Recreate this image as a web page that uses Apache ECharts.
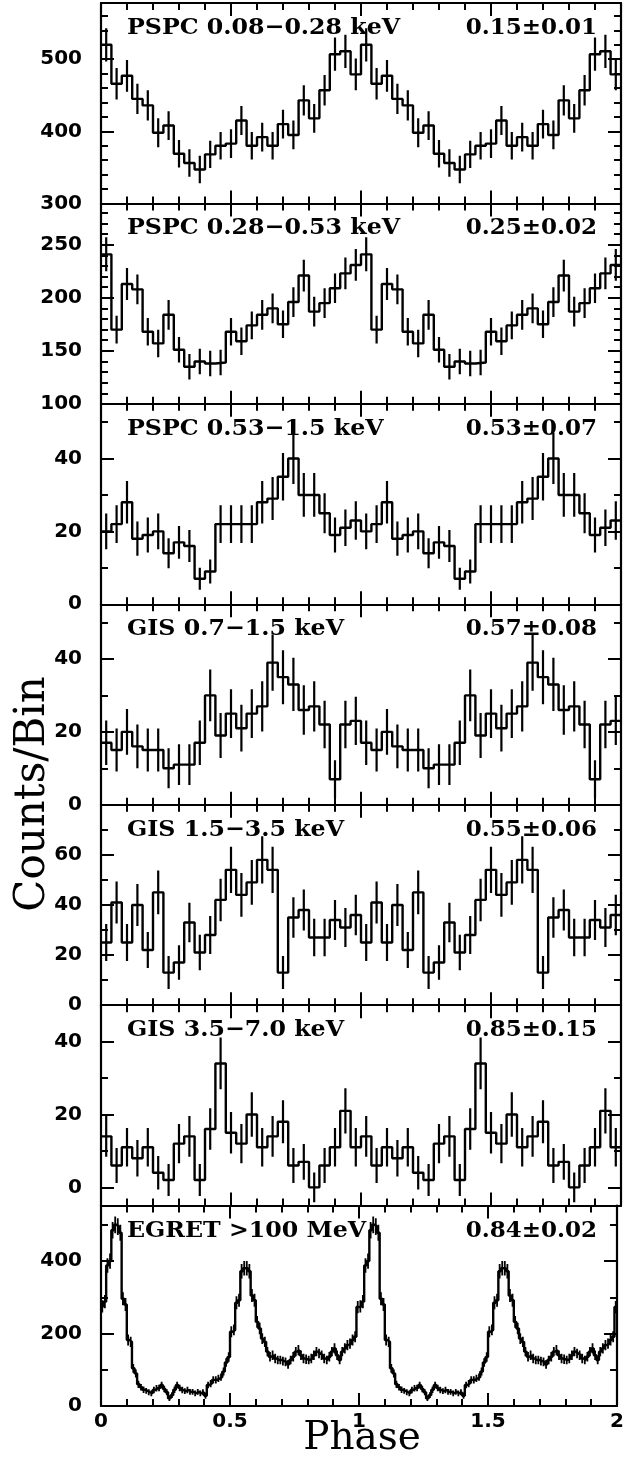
<!DOCTYPE html>
<html><head><meta charset="utf-8">
<script src="https://cdn.jsdelivr.net/npm/echarts@6/dist/echarts.min.js"></script>
<style>html,body{margin:0;padding:0;background:#fff}#c{width:627px;height:1458px}</style>
</head><body><div id="c"></div>
<script>
// ---- data: one rotation (phase 0-1), shown twice in the figure ----
const pspcSoft = [520,466,477,445,436,398,408,369,356,347,368,380,383,415,380,392,380,410,395,443,418,457,507,511,479];
const pspcSoftErr = [23,22,22,21,21,20,20,19,19,19,19,19,20,20,19,20,19,20,20,21,20,21,23,23,22];
const pspcMid = [241,170,213,208,168,157,184,151,135,140,138,139,168,159,174,184,190,175,196,221,187,195,209,223,231];
const pspcMidErr = [16,13,15,14,13,13,14,12,12,12,12,12,13,13,13,14,14,13,14,15,14,14,14,15,15];
const pspcHard = [20,22,28,18,19,20,14,17,16,7,9,22,22,22,22,28,29,35,40,30,30,25,19,21,23];
const pspcHardErr = [4.9,5.2,5.8,4.7,4.8,4.9,4.1,4.5,4.4,3.0,3.3,5.2,5.2,5.2,5.2,5.8,5.9,6.5,7.0,6.0,6.0,5.5,4.8,5.0,5.3];
const gisLow = [17,15,20,16,15,15,10,11,11,17,30,19,25,21,25,27,39,35,33,26,27,22,7,22,23];
const gisLowErr = [6.1,5.9,6.3,6.0,5.9,5.9,5.5,5.6,5.6,6.1,7.1,6.2,6.7,6.4,6.7,6.9,7.7,7.4,7.3,6.8,6.9,6.5,5.2,6.5,6.6];
const gisMid = [25,41,25,40,22,45,13,17,33,21,28,42,54,44,49,58,54,13,35,38,27,27,34,31,36];
const gisMidErr = [7.4,8.4,7.4,8.4,7.2,8.7,6.6,6.9,7.9,7.1,7.6,8.5,9.2,8.7,8.9,9.4,9.2,6.6,8.1,8.2,7.5,7.5,8.0,7.8,8.1];
const gisHigh = [14,6,11,8,11,4,2,12,14,2,16,34,15,12,20,11,14,18,6,7,0,6,11,21,11];
const gisHighErr = [5.6,4.8,5.3,5.0,5.3,4.6,4.4,5.4,5.6,4.4,5.7,7.1,5.7,5.4,6.1,5.3,5.6,5.9,4.8,4.9,4.1,4.8,5.3,6.2,5.3];
const egret = [275,288,388,400,485,500,495,478,296,280,182,177,104,90,60,52,45,42,38,35,
  44,49,50,58,47,38,21,30,45,58,50,44,41,44,39,39,35,39,35,38,
  28,58,62,72,72,76,80,95,120,135,205,210,285,292,372,380,380,372,305,292,
  232,214,186,177,150,136,140,131,127,127,124,122,115,127,136,150,154,140,131,129,
  127,131,140,150,145,140,131,127,136,150,159,140,127,150,159,168,172,182,191,273];
const egretErr = [17,18,20,21,23,23,23,22,18,18,15,14,12,11,10,9,9,8,8,8,
  9,9,9,9,9,8,7,8,9,9,9,9,8,9,8,8,8,8,8,8,
  8,9,10,10,10,10,10,11,12,13,15,15,18,18,20,20,20,20,18,18,
  16,16,15,14,13,13,13,13,12,12,12,12,12,12,13,13,14,13,13,13,
  12,13,13,13,13,13,13,12,13,13,14,13,12,13,14,14,14,15,15,17];

const bandNames = ['PSPC 0.08\u22120.28 keV','PSPC 0.28\u22120.53 keV','PSPC 0.53\u22121.5 keV',
  'GIS 0.7\u22121.5 keV','GIS 1.5\u22123.5 keV','GIS 3.5\u22127.0 keV','EGRET >100 MeV'];
const pulsedFrac = ['0.15\u00b10.01','0.25\u00b10.02','0.53\u00b10.07','0.57\u00b10.08','0.55\u00b10.06','0.85\u00b10.15','0.84\u00b10.02'];
const yMin = [300,100,0,0,0,-5,0];
const yMax = [578,289,55,55,80,50,553];
const yStep = [100,50,20,20,20,20,200];
const yMinorSplit = [5,5,2,2,2,2,2];
const phaseTicks = ['0','0.5','1','1.5','2'];

const values = [pspcSoft,pspcMid,pspcHard,gisLow,gisMid,gisHigh,egret];
const errors = [pspcSoftErr,pspcMidErr,pspcHardErr,gisLowErr,gisMidErr,gisHighErr,egretErr];

// ---- layout ----
const TOP = 3, H = 200.43, LEFT = 101, RIGHT = 6;
const BLK = '#000';
const tickFont = '"DejaVu Sans", sans-serif';
const serif = '"DejaVu Serif", serif';

const grids = [], xAxes = [], yAxes = [], series = [], graphics = [];
for (let i = 0; i < 7; i++) {
  grids.push({left: LEFT, right: RIGHT, top: TOP + i * H, height: H, containLabel: false});
  const last = i === 6;
  const xa = (pos, showLab) => ({
    type: 'value', gridIndex: i, min: 0, max: 2, interval: 0.5, position: pos,
    axisLine: {show: true, onZero: false, lineStyle: {color: BLK, width: 2.2}},
    axisTick: {show: true, inside: true, length: 13, lineStyle: {color: BLK, width: 2}},
    minorTick: {show: true, splitNumber: 5, length: 7, lineStyle: {color: BLK, width: 2}},
    splitLine: {show: false}, minorSplitLine: {show: false},
    axisLabel: {show: showLab, margin: 6, color: BLK, fontFamily: tickFont, fontWeight: 'bold', fontSize: 20,
      formatter: v => phaseTicks[Math.round(v * 2)] }
  });
  xAxes.push(xa('bottom', last));
  xAxes.push(xa('top', false));
  const ya = (pos, showLab) => ({
    type: 'value', gridIndex: i, min: yMin[i], max: yMax[i], minInterval: yStep[i], maxInterval: yStep[i],
    position: pos,
    axisLine: {show: true, onZero: false, lineStyle: {color: BLK, width: 2.2}},
    axisTick: {show: true, inside: true, length: 13, lineStyle: {color: BLK, width: 2}},
    minorTick: {show: true, splitNumber: yMinorSplit[i], length: 7, lineStyle: {color: BLK, width: 2}},
    splitLine: {show: false}, minorSplitLine: {show: false},
    axisLabel: {show: showLab, margin: 19, color: BLK, fontFamily: tickFont, fontWeight: 'bold', fontSize: 20,
      showMaxLabel: false, showMinLabel: yMin[i] % yStep[i] === 0}
  });
  yAxes.push(ya('left', true));
  yAxes.push(ya('right', false));

  // two rotations
  const v = values[i].concat(values[i]);
  const e = errors[i].concat(errors[i]);
  const n = v.length, w = 2 / n;
  const stepData = v.map((y, k) => [k * w, y]);
  stepData.push([2, v[n - 1]]);
  series.push({
    type: 'line', xAxisIndex: 2 * i, yAxisIndex: 2 * i, step: 'end', data: stepData,
    symbol: 'none', clip: true, animation: false,
    lineStyle: {color: BLK, width: i === 6 ? 2.4 : 2.4}
  });
  const errData = v.map((y, k) => [(k + 0.5) * w, y - e[k], y + e[k]]);
  series.push({
    type: 'custom', xAxisIndex: 2 * i, yAxisIndex: 2 * i, data: errData, clip: true, animation: false,
    encode: {x: 0, y: [1, 2]},
    renderItem: (params, api) => {
      const p1 = api.coord([api.value(0), api.value(1)]);
      const p2 = api.coord([api.value(0), api.value(2)]);
      return {type: 'line', shape: {x1: p1[0], y1: p1[1], x2: p2[0], y2: p2[1]},
        style: {stroke: BLK, lineWidth: i === 6 ? 1.8 : 2.2}};
    }
  });

  const ty = TOP + i * H + 25;
  graphics.push({type: 'text', x: 127, y: ty, scaleX: 1.03, z: 100,
    style: {text: bandNames[i], font: 'bold 23px ' + serif, fill: BLK,
      align: 'left', verticalAlign: 'middle', textAlign: 'left', textVerticalAlign: 'middle'}});
  graphics.push({type: 'text', x: 597, y: ty, scaleX: 1.0, z: 100,
    style: {text: pulsedFrac[i], font: 'bold 23px ' + serif, fill: BLK,
      align: 'right', verticalAlign: 'middle', textAlign: 'right', textVerticalAlign: 'middle'}});
}
graphics.push({type: 'text', x: 33, y: 794, rotation: Math.PI / 2, z: 100,
  style: {text: 'Counts/Bin', font: '42px ' + serif, fill: BLK,
    align: 'center', verticalAlign: 'middle', textAlign: 'center', textVerticalAlign: 'middle'}});
graphics.push({type: 'text', x: 362, y: 1439, z: 100,
  style: {text: 'Phase', font: '39px ' + serif, fill: BLK,
    align: 'center', verticalAlign: 'middle', textAlign: 'center', textVerticalAlign: 'middle'}});

const chart = echarts.init(document.getElementById('c'), null, {renderer: 'canvas'});
chart.setOption({
  animation: false, backgroundColor: '#fff',
  grid: grids, xAxis: xAxes, yAxis: yAxes, series: series, graphic: graphics
});
</script>
</body></html>
